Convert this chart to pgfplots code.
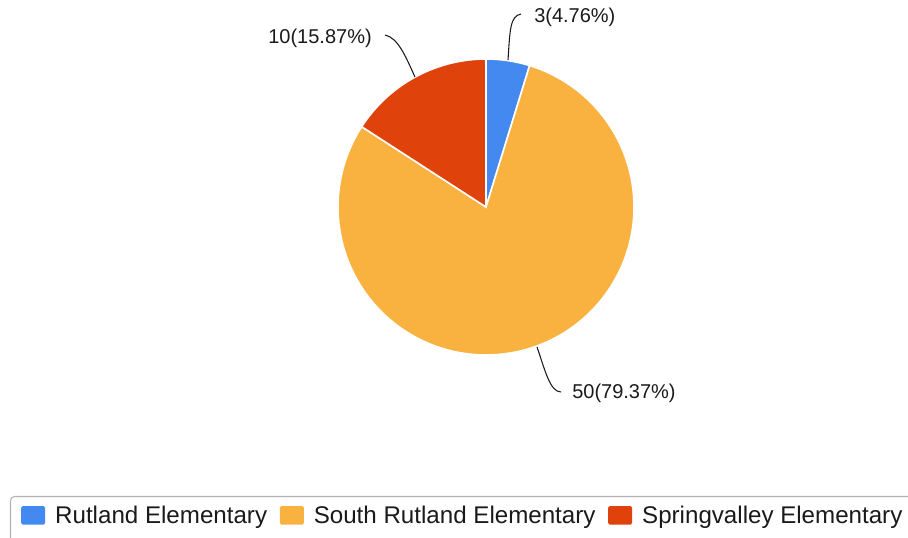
\documentclass[border=0pt]{standalone}
\usepackage{pgfplots}
\usepackage{pgfplotstable}
\pgfplotsset{compat=1.18}
\usepackage{fontspec}
\setmainfont{Liberation Sans}
\definecolor{cblue}{HTML}{4489F0}
\definecolor{corange}{HTML}{F9B140}
\definecolor{cred}{HTML}{DF420B}
\definecolor{ctext}{HTML}{1A1A1A}

\pgfplotstableread{
name value
Rutland 3
SouthRutland 50
Springvalley 10
}\datatable

\begin{document}
\begin{tikzpicture}
\useasboundingbox (0,0) rectangle (681pt,402.75pt);
\pgfplotstablegetelem{0}{value}\of\datatable \let\va\pgfplotsretval
\pgfplotstablegetelem{1}{value}\of\datatable \let\vb\pgfplotsretval
\pgfplotstablegetelem{2}{value}\of\datatable \let\vc\pgfplotsretval
\pgfmathsetmacro{\tot}{\va+\vb+\vc}
\pgfmathsetmacro{\azero}{90}
\pgfmathsetmacro{\aone}{\azero-(360/\tot)*\va}
\pgfmathsetmacro{\atwo}{\aone-(360/\tot)*\vb}
\pgfmathsetmacro{\athree}{\atwo-(360/\tot)*\vc}
\begin{axis}[
  at={(0,0)}, anchor=south west,
  scale only axis, width=681pt, height=402.75pt,
  xmin=0, xmax=908, ymin=0, ymax=537, y dir=reverse,
  hide axis, clip=false,
  legend columns=3,
  legend cell align=left,
  legend image code/.code={\fill[#1, draw=none, rounded corners=1.2pt] (0pt,-3.0pt) rectangle (18pt,10.8pt);},
  legend style={at={(0.011,0.0764)}, anchor=north west, draw=black!30, line width=0.8pt,
     rounded corners=3pt, font=\fontsize{18.1}{21}\selectfont\color{ctext},
     inner xsep=8pt, inner ysep=5pt,
     nodes={text depth=9pt},
     /tikz/every odd column/.append style={column sep=5.5pt},
     /tikz/every even column/.append style={column sep=7.5pt}},
]
\addplot[fill=cblue, draw=white, line width=1.2pt, domain=\aone:\azero, samples=40, variable=\t]
  ({486+148*cos(\t)},{207-148*sin(\t)}) -- (axis cs:486,207) -- cycle;
\addlegendentry{Rutland Elementary}
\addplot[fill=corange, draw=white, line width=1.2pt, domain=\atwo:\aone, samples=200, variable=\t]
  ({486+148*cos(\t)},{207-148*sin(\t)}) -- (axis cs:486,207) -- cycle;
\addlegendentry{South Rutland Elementary}
\addplot[fill=cred, draw=white, line width=1.2pt, domain=\athree:\atwo, samples=60, variable=\t]
  ({486+148*cos(\t)},{207-148*sin(\t)}) -- (axis cs:486,207) -- cycle;
\addlegendentry{Springvalley Elementary}
% leader lines
\draw[ctext, line width=0.8pt] (axis cs:508,60) .. controls (axis cs:510,30) and (axis cs:510,16) .. (axis cs:521,14);
\draw[ctext, line width=0.8pt] (axis cs:415,77) .. controls (axis cs:405,55) and (axis cs:398,38) .. (axis cs:385,35);
\draw[ctext, line width=0.8pt] (axis cs:537,347) .. controls (axis cs:545,370) and (axis cs:550,392) .. (axis cs:561,392);
% labels
\node[anchor=west, inner sep=0pt, font=\fontsize{15}{18}\selectfont, text=ctext] at (axis cs:534,17) {3(4.76\%)};
\node[anchor=east, inner sep=0pt, font=\fontsize{15}{18}\selectfont, text=ctext] at (axis cs:372,38) {10(15.87\%)};
\node[anchor=west, inner sep=0pt, font=\fontsize{15}{18}\selectfont, text=ctext] at (axis cs:572,393) {50(79.37\%)};
\end{axis}
\end{tikzpicture}
\end{document}
